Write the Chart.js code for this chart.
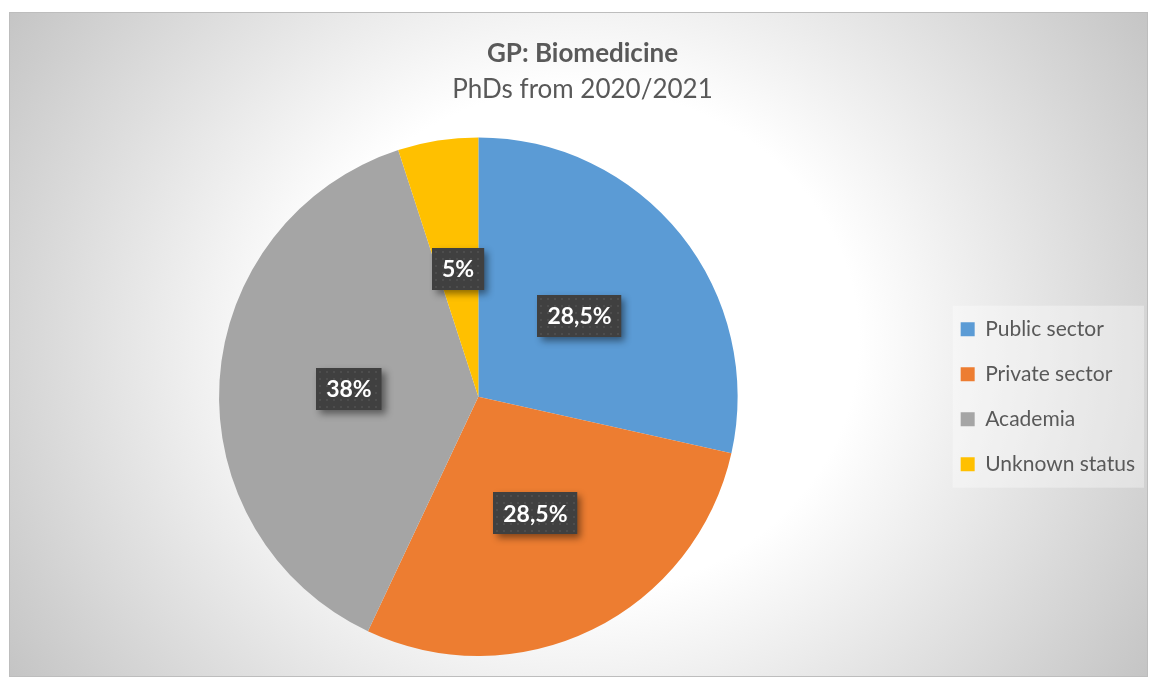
<!DOCTYPE html>
<html>
<head>
<meta charset="utf-8">
<title>GP: Biomedicine</title>
<script src="https://cdn.jsdelivr.net/npm/chart.js@4.4.0/dist/chart.umd.min.js"></script>
<style>
  body {
    margin: 0;
    background: #ffffff;
  }
  .frame {
    position: absolute;
    left: 9px;
    top: 12px;
    width: 1139px;
    height: 665px;
    box-sizing: border-box;
    border: 1px solid #bdbdbd;
    background: radial-gradient(ellipse 682px 616px at 569px 328px, #ffffff 0%, #ffffff 41%, #c4c4c4 100%);
  }
  canvas {
    position: absolute;
    left: 0;
    top: 0;
  }
</style>
</head>
<body>
<div class="frame">
  <canvas id="pie" width="1139" height="665"></canvas>
</div>
<script>
// data
const categories = ["Public sector", "Private sector", "Academia", "Unknown status"];
const shares = [28.5, 28.5, 38, 5];
const sliceColors = ["#5b9bd5", "#ed7d31", "#a5a5a5", "#ffc000"];

const titleText = "GP: Biomedicine";
const subtitleText = "PhDs from 2020/2021";

//label text like Excel, with decimal comma
function pctLabel(v) {
  return v.toString().replace(".", ",") + "%";
}

// light box behind the legend
const legendBg = {
  id: "legendBg",
  beforeDraw(chart) {
    const lg = chart.legend;
    if (!lg || !lg.legendHitBoxes.length) return;
    const boxes = lg.legendHitBoxes;
    const first = boxes[0];
    const last = boxes[boxes.length - 1];
    const ctx = chart.ctx;
    ctx.save();
    ctx.fillStyle = "rgba(255,255,255,0.35)";
    const x = first.left - 8;
    const y = first.top - 13;
    ctx.fillRect(x, y, lg.right - x - 1, last.top + last.height + 13 - y);
    ctx.restore();
  },
};

// dark data label boxes
const sliceLabels = {
  id: "sliceLabels",
  afterDatasetsDraw(chart) {
    const ctx = chart.ctx;
    const meta = chart.getDatasetMeta(0);
    ctx.save();
    ctx.font = "bold 23px Lato";
    meta.data.forEach((arc, i) => {
      const p = arc.getCenterPoint();
      const txt = pctLabel(shares[i]);
      const w = ctx.measureText(txt).width + 20;
      const h = 42;
      const x = Math.round(p.x - w / 2);
      const y = Math.round(p.y - h / 2);

      ctx.save();
      ctx.shadowColor = "rgba(0,0,0,0.45)";
      ctx.shadowBlur = 7;
      ctx.shadowOffsetX = 4;
      ctx.shadowOffsetY = 4;
      ctx.fillStyle = "#404040";
      ctx.fillRect(x, y, w, h);
      ctx.restore();

      //dotted texture
      ctx.fillStyle = "rgba(255,255,255,0.07)";
      for (let yy = y + 3; yy < y + h - 1; yy += 7) {
        for (let xx = x + 3; xx < x + w - 1; xx += 7) {
          ctx.fillRect(xx, yy, 2, 2);
        }
      }

      ctx.fillStyle = "#ffffff";
      ctx.textAlign = "center";
      ctx.textBaseline = "middle";
      ctx.fillText(txt, p.x, p.y + 1);
    });
    ctx.restore();
  },
};

const config = {
  type: "pie",
  data: {
    labels: categories,
    datasets: [
      {
        data: shares,
        backgroundColor: sliceColors,
        borderWidth: 0,
      },
    ],
  },
  options: {
    responsive: false,
    animation: false,
    layout: {
      padding: { left: 10, right: 4, top: 0, bottom: 22 },
    },
    plugins: {
      title: {
        display: true,
        text: titleText,
        color: "#595959",
        font: { family: "Lato", size: 26, weight: "bold" },
        padding: { top: 25, bottom: 5 },
      },
      subtitle: {
        display: true,
        text: subtitleText,
        color: "#595959",
        font: { family: "Lato", size: 26 },
        padding: { top: 0, bottom: 32 },
      },
      legend: {
        position: "right",
        fullSize: false,
        labels: {
          boxWidth: 14,
          boxHeight: 14,
          padding: 24,
          color: "#595959",
          font: { family: "Lato", size: 21 },
        },
      },
      tooltip: { enabled: false },
    },
  },
  plugins: [legendBg, sliceLabels],
};

new Chart(document.getElementById("pie"), config);
</script>
</body>
</html>
